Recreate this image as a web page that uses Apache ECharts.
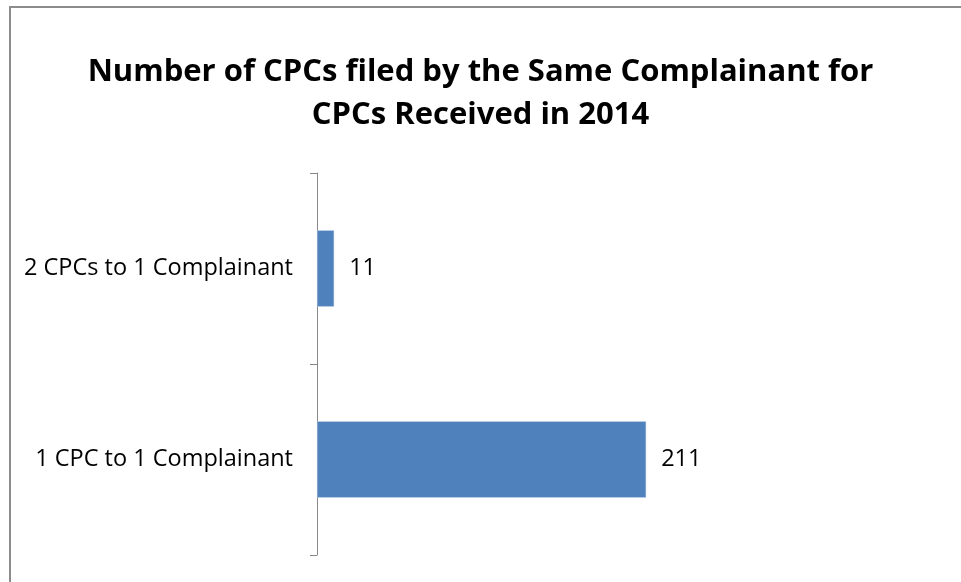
<!DOCTYPE html>
<html>
<head>
<meta charset="utf-8">
<script src="https://cdn.jsdelivr.net/npm/echarts@6/dist/echarts.min.js"></script>
<style>
	html, body { margin: 0; padding: 0; background: #ffffff; }
	#chart { width: 961px; height: 582px; }
</style>
</head>
<body>
<div id="chart"></div>
<script>
const categories = ['1 CPC to 1 Complainant', '2 CPCs to 1 Complainant'];
const values = [211, 11];

const chart = echarts.init(document.querySelector('#chart'));

const font = '"Open Sans", sans-serif';

const option = {
	animation: false,
	title: {
		text: 'Number of CPCs filed by the Same Complainant for\nCPCs Received in 2014',
		left: 'center',
		top: 46,
		textStyle: {
			fontFamily: font,
			fontSize: 31,
			fontWeight: 700,
			color: '#000000',
			lineHeight: 43
		}
	},
	graphic: [
		{
			type: 'rect',
			shape: { x: 10, y: 7, width: 1000, height: 700 },
			style: { fill: 'none', stroke: '#8c8c8c', lineWidth: 2 },
			silent: true
		}
	],
	grid: {
		left: 317,
		top: 173,
		height: 382,
		width: 390
	},
	xAxis: {
		type: 'value',
		min: 0,
		max: 250,
		show: false
	},
	yAxis: {
		type: 'category',
		data: categories,
		axisLine: { lineStyle: { color: '#888888', width: 1 } },
		axisTick: { show: true, length: 7, lineStyle: { color: '#888888' } },
		axisLabel: {
			fontFamily: font,
			fontSize: 23.5,
			color: '#000000',
			margin: 24
		}
	},
	series: [
		{
			type: 'bar',
			data: values,
			barCategoryGap: '60%',
			itemStyle: {
				color: '#4f81bd',
				borderColor: '#c9d7ea',
				borderWidth: 0.5
			},
			label: {
				show: true,
				position: 'right',
				distance: 15,
				fontFamily: font,
				fontSize: 23.5,
				color: '#000000'
			}
		}
	]
};

chart.setOption(option);
</script>
</body>
</html>
